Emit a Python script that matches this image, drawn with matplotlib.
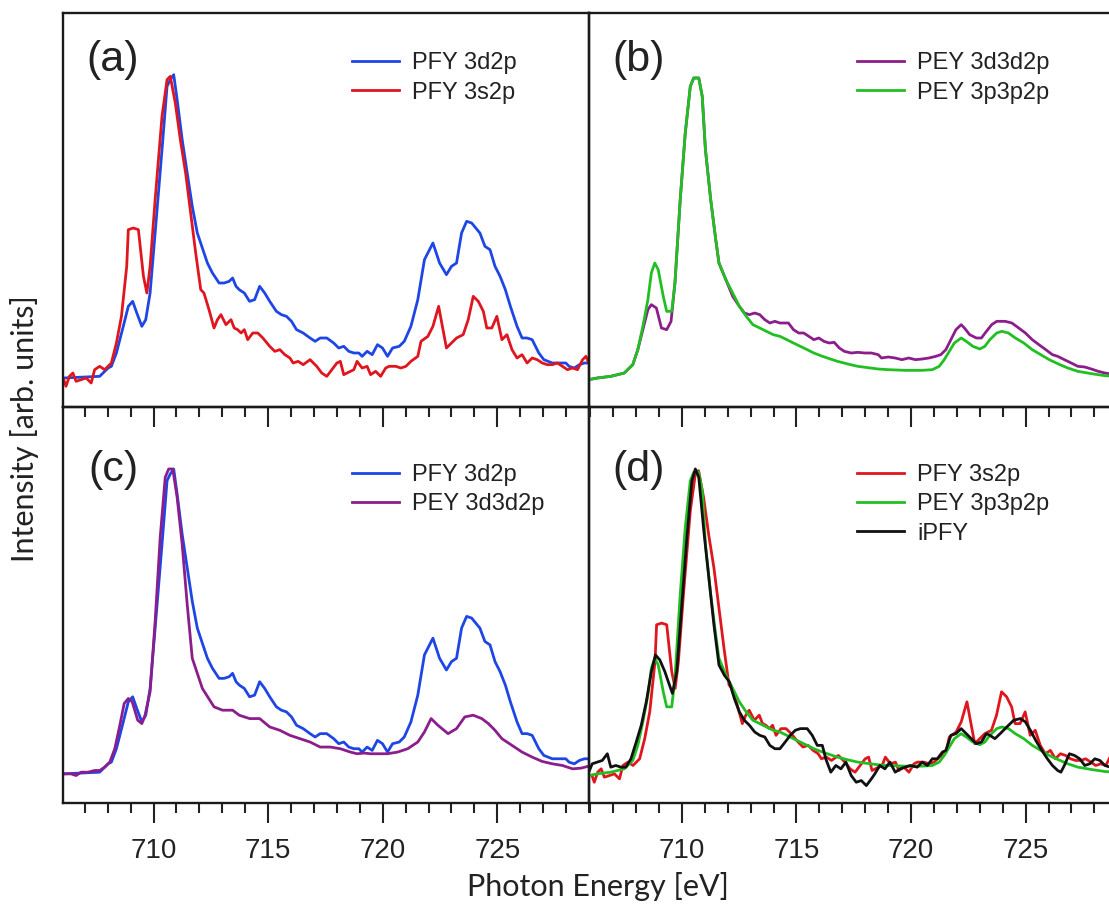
import matplotlib
matplotlib.use("Agg")
import matplotlib.pyplot as plt
from matplotlib.ticker import MultipleLocator

# PFY 3d2p (panels a and c)
pfy3d_e = [706.08, 707.65, 708.02, 708.16, 708.38, 708.68, 708.90, 709.09, 709.27, 709.49,
           709.66, 709.85, 710.07, 710.37, 710.59, 710.73, 710.88, 711.03, 711.25, 711.47,
           711.69, 711.91, 712.13, 712.35, 712.57, 712.86, 713.08, 713.30, 713.45, 713.60,
           713.74, 713.96, 714.19, 714.41, 714.63, 714.85, 715.07, 715.36, 715.58, 715.80,
           716.02, 716.24, 716.53, 716.83, 717.05, 717.27, 717.56, 717.86, 718.08, 718.30,
           718.52, 718.74, 718.96, 719.10, 719.32, 719.54, 719.77, 719.99, 720.21, 720.43,
           720.72, 720.94, 721.23, 721.53, 721.82, 722.19, 722.48, 722.78, 723.00, 723.22,
           723.44, 723.66, 723.88, 724.24, 724.46, 724.68, 724.90, 725.12, 725.35, 725.57,
           725.86, 726.08, 726.30, 726.52, 726.81, 727.03, 727.40, 727.69, 727.99, 728.13,
           728.36, 728.58, 728.80, 728.99]
pfy3d_i = [9.5, 10.0, 12.5, 13.0, 17.0, 25.0, 31.0, 32.5, 29.0, 25.0,
           27.0, 35.0, 53.0, 78.0, 97.0, 99.0, 100.5, 93.0, 81.0, 71.0,
           61.0, 53.0, 48.5, 44.0, 41.0, 38.0, 38.0, 38.5, 39.5, 37.0,
           36.0, 35.0, 32.5, 33.0, 37.0, 35.0, 32.5, 29.5, 28.5, 28.0,
           26.5, 24.0, 23.0, 21.5, 20.5, 21.5, 21.5, 20.0, 18.5, 19.0,
           17.5, 17.0, 17.0, 16.0, 17.5, 16.5, 19.5, 18.5, 16.0, 18.5,
           19.0, 20.5, 25.0, 33.0, 45.0, 50.0, 44.0, 40.5, 43.0, 44.0,
           53.0, 56.5, 56.0, 53.0, 49.0, 48.0, 43.0, 40.0, 36.0, 31.0,
           25.0, 21.5, 21.5, 21.0, 17.0, 15.0, 14.0, 14.0, 14.0, 13.0,
           12.5, 13.5, 14.0, 14.0]

# PFY 3s2p (panels a and d)
pfy3s_e = [706.08, 706.18, 706.33, 706.48, 706.62, 706.84, 707.06, 707.28, 707.43, 707.65,
           707.87, 708.16, 708.38, 708.60, 708.83, 708.90, 709.12, 709.34, 709.56, 709.71,
           709.85, 710.07, 710.37, 710.59, 710.73, 710.95, 711.17, 711.40, 711.62, 711.84,
           712.06, 712.20, 712.42, 712.64, 712.79, 712.94, 713.16, 713.38, 713.52, 713.67,
           713.82, 713.96, 714.11, 714.33, 714.55, 714.77, 715.07, 715.29, 715.51, 715.73,
           715.95, 716.09, 716.31, 716.53, 716.83, 717.12, 717.34, 717.56, 717.78, 718.00,
           718.15, 718.30, 718.59, 718.74, 718.88, 719.10, 719.32, 719.47, 719.69, 719.91,
           720.13, 720.28, 720.57, 720.79, 721.01, 721.23, 721.53, 721.67, 721.97, 722.19,
           722.44, 722.63, 722.78, 723.00, 723.22, 723.51, 723.73, 723.95, 724.17, 724.39,
           724.54, 724.76, 724.98, 725.20, 725.42, 725.64, 725.86, 726.08, 726.30, 726.52,
           726.74, 726.96, 727.18, 727.40, 727.62, 727.84, 728.06, 728.28, 728.50, 728.72,
           728.87, 728.99]
pfy3s_i = [9.0, 7.0, 10.0, 11.0, 8.5, 9.0, 9.5, 8.0, 12.0, 13.0,
           12.0, 14.0, 20.0, 28.0, 43.0, 54.0, 54.5, 54.0, 40.0, 35.0,
           43.0, 63.0, 88.0, 99.0, 100.0, 92.0, 81.0, 71.0, 59.0, 47.0,
           36.0, 35.0, 30.0, 24.5, 27.0, 28.5, 25.5, 27.0, 24.5, 24.0,
           23.0, 24.0, 21.0, 23.0, 23.0, 21.5, 19.0, 17.5, 18.0, 16.5,
           15.5, 14.0, 14.5, 13.5, 15.0, 13.0, 11.0, 10.0, 12.0, 14.0,
           14.5, 10.5, 11.5, 12.0, 14.5, 12.5, 13.0, 10.5, 11.5, 10.0,
           12.5, 13.0, 13.0, 12.5, 13.0, 14.5, 16.0, 20.5, 22.0, 25.0,
           31.0, 24.0, 18.5, 20.0, 21.5, 22.5, 27.0, 34.0, 32.5, 29.5,
           24.5, 24.5, 28.0, 21.0, 22.5, 18.0, 15.5, 16.5, 14.0, 15.5,
           15.0, 14.0, 13.5, 13.5, 14.0, 13.0, 12.0, 12.5, 12.0, 15.0,
           16.0, 14.0]

# PEY 3d3d2p (panel b)
pey3d_e = [705.94, 706.31, 706.90, 707.49, 707.86, 708.08, 708.30, 708.52, 708.67, 708.89,
           709.11, 709.34, 709.53, 709.70, 709.93, 710.15, 710.37, 710.52, 710.74, 710.89,
           711.03, 711.26, 711.48, 711.62, 711.92, 712.22, 712.51, 712.73, 712.95, 713.18,
           713.40, 713.62, 713.84, 714.06, 714.28, 714.51, 714.65, 714.87, 715.10, 715.32,
           715.54, 715.76, 715.98, 716.20, 716.43, 716.65, 716.87, 717.09, 717.39, 717.68,
           717.98, 718.27, 718.57, 718.71, 719.01, 719.31, 719.60, 719.90, 720.19, 720.49,
           720.78, 721.08, 721.30, 721.52, 721.74, 721.96, 722.19, 722.33, 722.56, 722.85,
           723.07, 723.29, 723.52, 723.74, 724.11, 724.40, 724.70, 724.99, 725.29, 725.58,
           725.88, 726.17, 726.40, 726.69, 726.99, 727.28, 727.58, 727.87, 728.17, 728.46,
           728.88]
pey3d_i = [9.0, 9.5, 10.0, 11.0, 13.5, 18.0, 24.0, 30.0, 31.5, 30.5,
           24.5, 24.0, 26.5, 38.0, 63.0, 83.0, 97.0, 99.5, 99.5, 94.0,
           78.0, 63.0, 51.0, 44.0, 39.0, 34.0, 31.0, 29.0, 28.5, 29.0,
           28.5, 27.0, 26.0, 26.5, 26.0, 26.0, 26.0, 24.0, 23.0, 23.0,
           22.0, 21.0, 21.5, 20.5, 20.0, 20.2, 18.5, 17.5, 17.0, 17.2,
           17.0, 17.0, 16.5, 15.5, 15.8, 15.5, 15.0, 15.5, 15.0, 15.2,
           15.5, 16.0, 16.5, 18.0, 21.0, 24.0, 25.5, 24.5, 22.5, 21.5,
           21.5, 23.5, 25.5, 26.5, 26.5, 26.0, 24.5, 23.0, 21.0, 19.5,
           18.0, 16.5, 16.0, 15.0, 14.0, 13.0, 12.8, 12.2, 11.5, 11.0,
           10.5]

# PEY 3p3p2p (panels b and d)
pey3p_e = [705.94, 706.31, 706.90, 707.49, 707.86, 708.08, 708.30, 708.52, 708.67, 708.82,
           708.97, 709.19, 709.34, 709.56, 709.70, 709.93, 710.15, 710.37, 710.52, 710.74,
           710.89, 711.03, 711.26, 711.48, 711.62, 711.92, 712.22, 712.51, 712.81, 713.10,
           713.40, 713.69, 713.99, 714.28, 714.58, 714.87, 715.17, 715.47, 715.76, 716.06,
           716.35, 716.79, 717.24, 717.68, 718.12, 718.57, 719.01, 719.75, 720.49, 720.93,
           721.23, 721.45, 721.67, 721.89, 722.19, 722.41, 722.70, 723.00, 723.22, 723.44,
           723.74, 723.96, 724.25, 724.55, 724.92, 725.29, 725.66, 726.03, 726.40, 726.84,
           727.28, 727.87, 728.46, 728.88]
pey3p_i = [9.0, 9.5, 10.0, 11.0, 13.5, 18.0, 25.0, 33.0, 41.0, 44.0,
           42.0, 34.0, 29.5, 29.5, 38.0, 63.0, 83.0, 97.0, 99.5, 99.5,
           94.0, 78.0, 63.0, 51.0, 44.0, 39.0, 35.0, 31.0, 28.0, 25.5,
           24.5, 23.5, 22.5, 22.0, 21.0, 20.0, 19.0, 18.0, 17.0, 16.2,
           15.5, 14.5, 13.7, 13.0, 12.6, 12.2, 12.0, 11.8, 11.8, 12.0,
           13.0, 15.0, 17.5, 20.0, 21.5, 20.5, 19.0, 18.2, 19.0, 21.0,
           23.0, 23.5, 23.0, 21.5, 20.0, 18.0, 16.5, 15.0, 13.8, 12.5,
           11.5, 10.8, 10.2, 10.0]

# PEY 3d3d2p scaled to PFY 3d2p (panel c)
pey3d_c_e = [706.08, 706.40, 706.62, 706.84, 707.14, 707.43, 707.65, 707.87, 708.09, 708.31,
             708.53, 708.72, 708.90, 709.07, 709.31, 709.49, 709.63, 709.85, 710.07, 710.29,
             710.51, 710.66, 710.84, 711.03, 711.25, 711.47, 711.69, 712.13, 712.64, 713.01,
             713.45, 713.74, 714.19, 714.63, 715.07, 715.51, 715.95, 716.39, 716.83, 717.27,
             717.71, 718.15, 718.59, 718.88, 719.18, 719.47, 719.77, 720.21, 720.65, 721.09,
             721.53, 721.82, 722.11, 722.41, 722.85, 723.22, 723.58, 723.95, 724.32, 724.61,
             724.90, 725.20, 725.64, 726.08, 726.52, 726.96, 727.40, 727.84, 728.28, 728.65,
             728.99]
pey3d_c_i = [9.5, 9.5, 9.0, 10.0, 10.0, 10.5, 10.5, 11.5, 13.0, 17.0,
             24.0, 30.5, 32.0, 31.0, 25.5, 24.5, 27.0, 34.0, 55.0, 80.0,
             98.0, 100.5, 100.5, 92.0, 78.0, 60.0, 44.0, 35.0, 29.5, 28.5,
             28.5, 27.0, 26.0, 26.0, 23.5, 22.5, 21.0, 20.0, 19.0, 17.5,
             17.5, 17.0, 16.0, 15.5, 15.7, 15.5, 15.5, 15.5, 16.0, 17.0,
             19.0, 22.0, 26.0, 24.0, 21.5, 23.0, 26.5, 27.0, 26.0, 24.5,
             22.5, 20.0, 18.0, 16.0, 14.5, 13.2, 12.5, 12.0, 11.0, 11.2,
             11.8]

# iPFY (panel d)
ipfy_e = [705.94, 706.09, 706.31, 706.53, 706.75, 706.90, 707.12, 707.34, 707.56, 707.78,
          708.01, 708.23, 708.45, 708.67, 708.85, 709.04, 709.26, 709.41, 709.59, 709.78,
          710.00, 710.22, 710.44, 710.59, 710.74, 710.96, 711.18, 711.40, 711.62, 711.85,
          712.07, 712.29, 712.51, 712.73, 712.95, 713.18, 713.40, 713.62, 713.84, 714.06,
          714.28, 714.51, 714.73, 714.95, 715.17, 715.47, 715.69, 715.91, 716.13, 716.28,
          716.50, 716.72, 716.94, 717.16, 717.39, 717.61, 717.83, 718.05, 718.27, 718.42,
          718.64, 718.86, 719.08, 719.31, 719.53, 719.75, 719.97, 720.27, 720.49, 720.71,
          720.93, 721.15, 721.37, 721.52, 721.74, 721.96, 722.19, 722.41, 722.63, 722.85,
          723.07, 723.29, 723.44, 723.66, 723.89, 724.18, 724.48, 724.77, 724.99, 725.21,
          725.44, 725.66, 725.95, 726.17, 726.40, 726.54, 726.69, 726.91, 727.13, 727.36,
          727.58, 727.80, 728.02, 728.24, 728.46, 728.69, 728.88]
ipfy_i = [10.0, 12.5, 13.0, 13.5, 15.5, 11.5, 12.0, 11.5, 11.5, 14.0,
          19.0, 24.0, 31.0, 40.0, 45.0, 43.5, 40.0, 37.0, 33.5, 40.0,
          60.0, 80.0, 97.0, 100.5, 98.0, 82.0, 68.0, 54.0, 42.0, 39.0,
          37.0, 32.0, 28.0, 25.5, 24.0, 22.0, 21.0, 20.5, 18.0, 17.0,
          17.0, 19.0, 21.0, 22.5, 23.0, 23.0, 21.0, 18.0, 18.0, 14.0,
          10.0, 12.0, 11.0, 13.0, 9.0, 7.0, 7.5, 6.0, 8.0, 9.5,
          12.0, 11.0, 13.0, 10.0, 11.0, 11.5, 12.0, 11.5, 13.0, 12.0,
          14.0, 14.0, 16.0, 16.5, 21.0, 21.5, 23.0, 21.5, 20.0, 18.5,
          19.0, 21.5, 21.0, 20.0, 21.5, 23.5, 25.5, 26.0, 25.0, 22.5,
          19.5, 17.0, 14.0, 12.0, 10.5, 10.0, 12.0, 15.5, 15.0, 14.0,
          12.0, 12.5, 14.0, 13.5, 12.0, 11.5, 12.0]

BLUE = "#1e46e6"
RED = "#e0161f"
PURPLE = "#8c1e8c"
GREEN = "#22bf22"
BLACK = "#111111"

plt.rcParams["font.family"] = ["Liberation Sans", "DejaVu Sans"]

fig = plt.figure(figsize=(11.09, 9.05), dpi=100)
W, H = 1109.0, 905.0


def make_ax(x0, y0, w, h):
    return fig.add_axes([x0 / W, 1 - (y0 + h) / H, w / W, h / H])


ax_a = make_ax(63, 13, 526, 394)
ax_b = make_ax(589, 13, 526, 394)
ax_c = make_ax(63, 407, 526, 396)
ax_d = make_ax(589, 407, 526, 396)

lw = 2.0
ax_a.plot(pfy3d_e, pfy3d_i, color=BLUE, lw=lw, label="PFY 3d2p")
ax_a.plot(pfy3s_e, pfy3s_i, color=RED, lw=lw, label="PFY 3s2p")

ax_b.plot(pey3d_e, pey3d_i, color=PURPLE, lw=lw, label="PEY 3d3d2p")
ax_b.plot(pey3p_e, pey3p_i, color=GREEN, lw=lw, label="PEY 3p3p2p")

ax_c.plot(pfy3d_e, pfy3d_i, color=BLUE, lw=lw, label="PFY 3d2p")
ax_c.plot(pey3d_c_e, pey3d_c_i, color=PURPLE, lw=lw, label="PEY 3d3d2p")

ax_d.plot(pfy3s_e, pfy3s_i, color=RED, lw=lw, label="PFY 3s2p")
ax_d.plot(pey3p_e, pey3p_i, color=GREEN, lw=lw, label="PEY 3p3p2p")
ax_d.plot(ipfy_e, ipfy_i, color=BLACK, lw=lw, label="iPFY")

panels = [(ax_a, "(a)", 0.549, 0.900, 0.881), (ax_b, "(b)", 0.510, 0.900, 0.881),
          (ax_c, "(c)", 0.549, 0.856, 0.841), (ax_d, "(d)", 0.510, 0.856, 0.841)]

for ax, tag, lx, ly, ty in panels:
    left_col = ax in (ax_a, ax_c)
    ax.set_xlim((706.05, 729.0) if left_col else (705.95, 728.9))
    ax.set_ylim(0.8, 119.0)
    ax.set_facecolor("none")
    ax.set_yticks([])
    ax.xaxis.set_major_locator(MultipleLocator(5))
    ax.xaxis.set_minor_locator(MultipleLocator(1))
    ax.tick_params(axis="x", which="both", direction="out", width=1.5, top=False,
                   labelsize=20, pad=11, colors="#222222")
    ax.tick_params(axis="x", which="major", length=14.5)
    ax.tick_params(axis="x", which="minor", length=7.5)
    for s in ax.spines.values():
        s.set_linewidth(1.7)
        s.set_color("#1a1a1a")
    ax.text(0.095, ty, tag, transform=ax.transAxes, fontsize=31,
            ha="center", va="center", color="#222222")
    ax.legend(loc="upper left", bbox_to_anchor=(lx, ly), frameon=False, fontsize=17,
              handlelength=2.0, handletextpad=0.55, labelspacing=0.31,
              borderpad=0, borderaxespad=0, labelcolor="#222222")

for ax in (ax_a, ax_b):
    ax.tick_params(axis="x", labelbottom=False)
    ax.set_zorder(3)

fig.text(0.0225, 0.526, "Intensity [arb. units]", rotation=90, ha="center", va="center",
         fontsize=22, family=["Lato", "DejaVu Sans"], color="#222222")
fig.text(0.539, 0.020, "Photon Energy [eV]", ha="center", va="center",
         fontsize=22, family=["Lato", "DejaVu Sans"], color="#222222")

fig.savefig("out.png", dpi=100)
